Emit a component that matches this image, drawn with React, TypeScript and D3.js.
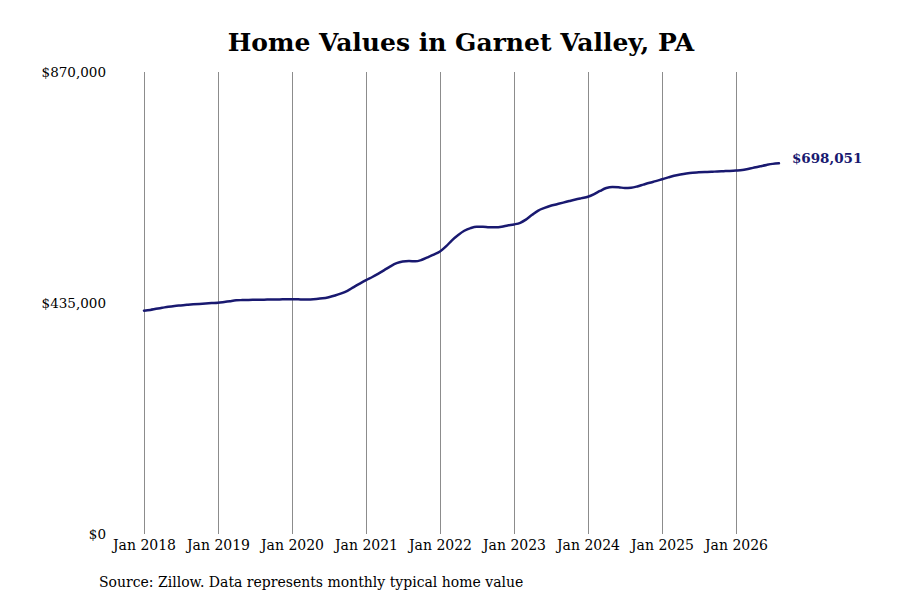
import React from "react";
import * as d3 from "d3";

const TITLE = "Home Values in Garnet Valley, PA";
const SOURCE = "Source: Zillow. Data represents monthly typical home value";
const START_YEAR = 2018;
// Monthly typical home value (thousands of $), Jan 2018 .. Aug 2026
const values2018 = [420.5, 422, 424, 426, 428, 429.5, 430.5, 431.5, 432.5, 433.3, 434, 434.8];
const values2019 = [435.5, 437, 438.5, 440, 440.5, 440.8, 441, 441.2, 441.4, 441.6, 441.8, 442];
const values2020 = [442.2, 442, 441.6, 441.8, 442.5, 443.8, 446, 449, 453, 458, 465, 471.5];
const values2021 = [478, 484, 490, 497, 504, 510, 513, 514, 513.5, 516, 521, 526];
const values2022 = [532, 542, 553, 563, 571, 576, 578.5, 578.5, 577.5, 577.5, 578.5, 581];
const values2023 = [583, 586, 592, 601, 609, 614, 618, 621, 624, 627, 630, 632.5];
const values2024 = [635, 640, 646, 651.5, 653.5, 653, 651.5, 652, 654.5, 658, 661.5, 664.5];
const values2025 = [668, 671.5, 674.5, 677, 679, 680.5, 681, 681.5, 682, 682.8, 683.3, 683.8];
const values2026 = [684.5, 685.5, 687.5, 690, 692.5, 695, 697, 698.051];
const yTicks = [0, 435000, 870000];
const xTickYears = [2018, 2019, 2020, 2021, 2022, 2023, 2024, 2025, 2026];
const lastLabel = "$698,051";

const allValues = [
  ...values2018, ...values2019, ...values2020, ...values2021, ...values2022,
  ...values2023, ...values2024, ...values2025, ...values2026,
];
const data = allValues.map((v, i) => ({
  date: new Date(START_YEAR, i, 1),
  value: v * 1000,
}));

const FONT = "'DejaVu Serif', serif";
const LINE = "#191970";

export default function App() {
  const W = 900, H = 600;
  const x = d3
    .scaleTime()
    .domain([new Date(2018, 0, 1), new Date(2026, 0, 1)])
    .range([144, 736]);
  const y = d3.scaleLinear().domain([0, 870000]).range([534, 72]);
  const line = d3
    .line<{ date: Date; value: number }>()
    .x((d) => x(d.date))
    .y((d) => y(d.value))
    .curve(d3.curveMonotoneX);
  const last = data[data.length - 1];
  const fmt = d3.format("$,");
  return (
    <svg
      width={W}
      height={H}
      style={{ position: "fixed", left: 0, top: 0, background: "#fff" }}
      fontFamily={FONT}
    >
      <rect width={W} height={H} fill="#fff" />
      <text x={461} y={51} textAnchor="middle" fontSize={25} fontWeight="bold" fill="#000">
        {TITLE}
      </text>
      {xTickYears.map((yr) => {
        const xx = Math.round(x(new Date(yr, 0, 1))) + 0.5;
        return (
          <g key={yr}>
            <line x1={xx} x2={xx} y1={y(870000)} y2={y(0)} stroke="#8c8c8c" strokeWidth={1} />
            <text x={xx} y={550} textAnchor="middle" fontSize={14} fill="#000">
              {`Jan ${yr}`}
            </text>
          </g>
        );
      })}
      {yTicks.map((t) => (
        <text key={t} x={106} y={y(t) + 5} textAnchor="end" fontSize={13.5} fill="#000">
          {fmt(t)}
        </text>
      ))}
      <path d={line(data) || ""} fill="none" stroke={LINE} strokeWidth={2.5} strokeLinecap="round" />
      <text x={x(last.date) + 13} y={y(last.value) - 0.5} fontSize={13.5} fontWeight="bold" fill={LINE}>
        {lastLabel}
      </text>
      <text x={99} y={587} fontSize={14} fill="#000">
        {SOURCE}
      </text>
    </svg>
  );
}
